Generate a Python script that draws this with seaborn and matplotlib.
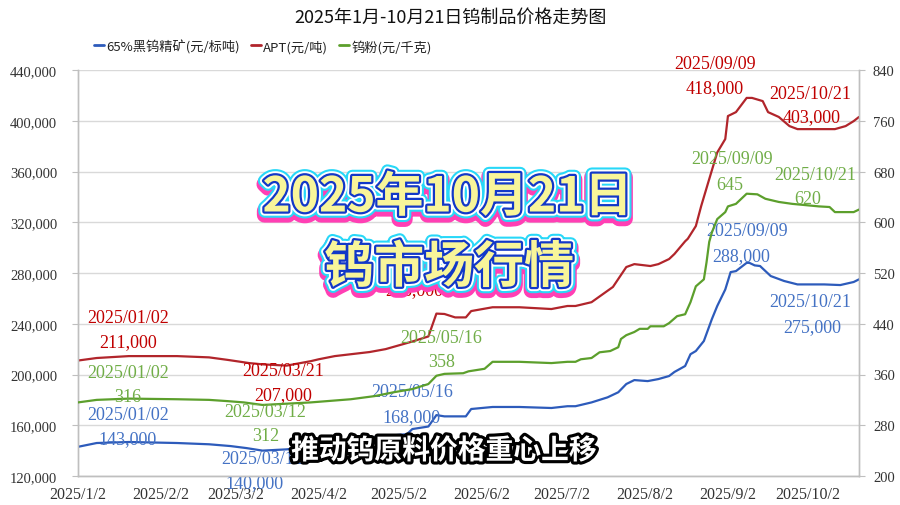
import numpy as np
import pandas as pd
import matplotlib
matplotlib.use("Agg")
import matplotlib.pyplot as plt
import matplotlib.dates as mdates
import matplotlib.patheffects as pe
from matplotlib.lines import Line2D
from matplotlib.ticker import FixedLocator, FuncFormatter
import seaborn as sns

# ---------------- data ----------------
title = "2025年1月-10月21日钨制品价格走势图"
series_names = ["65%黑钨精矿(元/标吨)", "APT(元/吨)", "钨粉(元/千克)"]

conc_dates = ['01-02','01-09','01-21','02-08','02-20','02-28','03-06','03-12','03-21','04-02',
              '04-14','04-21','04-27','05-05','05-07','05-13','05-16','05-19','05-27','05-29',
              '06-06','06-16','06-28','07-04','07-07','07-13','07-19','07-23','07-26','07-29',
              '08-03','08-07','08-11','08-13','08-17','08-19','08-21','08-24','08-27','08-29',
              '09-01','09-03','09-05','09-09','09-10','09-12','09-14','09-18','09-23','09-28',
              '10-08','10-14','10-19','10-21']
conc_values = [143000,146000,146800,146000,145000,143600,142000,140000,141000,144000,
               147000,150000,151500,153000,157000,159000,168000,167000,167000,172800,
               174400,174400,173600,175000,175000,178000,182000,186000,192500,195600,
               194800,196400,198800,202000,206700,216000,218500,226400,243700,254000,
               267000,280700,281500,288000,288000,286000,285500,277600,273700,271000,
               271000,270500,272900,275000]

apt_dates = ['01-02','01-09','01-21','02-08','02-20','02-27','03-07','03-12','03-21','03-30',
             '04-02','04-08','04-21','04-27','05-07','05-13','05-16','05-19','05-23','05-27',
             '05-29','06-06','06-16','06-28','07-04','07-07','07-13','07-17','07-21','07-26',
             '07-29','08-04','08-07','08-11','08-13','08-17','08-18','08-21','08-23','08-26',
             '08-29','09-01','09-02','09-05','09-09','09-11','09-15','09-17','09-21','09-25',
             '09-28','10-12','10-16','10-19','10-21']
apt_values = [211000,213000,214500,214500,213500,211500,209000,208000,207000,210500,
              212000,214500,217700,220000,226000,230000,248000,247700,245000,245000,
              250000,253000,253000,251600,254000,254000,257000,263000,269000,284700,
              287000,285500,287000,291000,295000,305000,307000,317000,332800,354000,
              375000,385600,403700,406800,418000,418000,415500,406800,403000,395800,
              393400,393400,395800,399700,403000]

powder_dates = ['01-02','01-09','01-21','02-08','02-20','02-27','03-05','03-12','03-21','03-30',
                '04-02','04-14','04-23','04-30','05-07','05-13','05-16','05-19','05-26','05-28',
                '06-03','06-06','06-16','06-28','07-04','07-07','07-09','07-13','07-16','07-20',
                '07-23','07-24','07-26','07-29','07-31','08-03','08-04','08-09','08-11','08-14',
                '08-17','08-19','08-21','08-24','08-25','08-26','08-27','08-29','09-01','09-02',
                '09-05','09-09','09-13','09-16','09-21','09-26','10-06','10-10','10-12','10-19',
                '10-21']
powder_values = [316,320,322,321,320,318,316,312,314,316,
                 317,321,326,332,337,345,358,361,362,365,
                 369,380,380,378,380,380,384,386,395,397,
                 403,416,422,427,432,432,436,436,441,452,
                 455,474,499,510,537,569,584,605,616,625,
                 629,645,644,637,632,629,625,624,616,616,
                 620]

# labelled points
conc_marks = ['01-02', '03-12', '05-16', '09-09', '10-21']
apt_marks = ['01-02', '03-21', '05-16', '09-09', '10-21']
powder_marks = ['01-02', '03-12', '05-16', '09-09', '10-21']

x_tick_months = [1, 2, 3, 4, 5, 6, 7, 8, 9, 10]
left_ticks = [120000, 160000, 200000, 240000, 280000, 320000, 360000, 400000, 440000]
right_ticks = [200, 280, 360, 440, 520, 600, 680, 760, 840]

headline_1 = "2025年10月21日"
headline_2 = "钨市场行情"
subtitle = "推动钨原料价格重心上移"

# ---------------- style ----------------
BLUE_L, RED_L, GREEN_L = "#2d5bbb", "#b1252b", "#5c9f2c"
BLUE_T, RED_T, GREEN_T = "#4472c4", "#c00000", "#70ad47"
GRID = "#d9d9d9"
AXC = "#bfbfbf"

sns.set_style("white")
plt.rcParams['font.family'] = ['Liberation Serif', 'Noto Sans CJK SC', 'DejaVu Sans']
CJK = ['Noto Sans CJK SC', 'DejaVu Sans']


def frame(dates, values):
    return pd.DataFrame({"date": pd.to_datetime(["2025-" + d for d in dates]),
                         "value": values})


conc_df = frame(conc_dates, conc_values)
apt_df = frame(apt_dates, apt_values)
powder_df = frame(powder_dates, powder_values)

fig = plt.figure(figsize=(9, 5.06), dpi=100)
ax = fig.add_axes([78 / 900, 1 - 477 / 506, (859 - 78) / 900, (477 - 71) / 506])
ax2 = ax.twinx()

sns.lineplot(data=conc_df, x="date", y="value", ax=ax, color=BLUE_L, lw=1.6, zorder=3)
sns.lineplot(data=apt_df, x="date", y="value", ax=ax, color=RED_L, lw=1.6, zorder=3)
sns.lineplot(data=powder_df, x="date", y="value", ax=ax2, color=GREEN_L, lw=1.6, zorder=3)

ax.set_xlim(pd.Timestamp("2025-01-02"), pd.Timestamp("2025-10-21"))
ax.set_ylim(120000, 440000)
ax2.set_ylim(200, 840)

ax.set_xticks([pd.Timestamp(2025, m, 2) for m in x_tick_months])
ax.xaxis.set_major_formatter(FuncFormatter(
    lambda v, p: (lambda d: f"{d.year}/{d.month}/{d.day}")(mdates.num2date(v))))
ax.yaxis.set_major_locator(FixedLocator(left_ticks))
ax.yaxis.set_major_formatter(FuncFormatter(lambda v, p: f"{int(v):,}"))
ax2.yaxis.set_major_locator(FixedLocator(right_ticks))
ax2.yaxis.set_major_formatter(FuncFormatter(lambda v, p: f"{int(v)}"))

for a in (ax, ax2):
    a.set_xlabel("")
    a.set_ylabel("")
    for s in a.spines.values():
        s.set_color(AXC)
        s.set_linewidth(1.0)
    a.spines['top'].set_visible(False)

ax.yaxis.grid(True, color=GRID, lw=1.0)
ax.xaxis.grid(False)
ax2.grid(False)
ax.tick_params(axis='x', direction='out', length=4, color=AXC, labelsize=11.5,
               labelcolor="#333333", pad=3)
ax.tick_params(axis='y', direction='out', length=4, color=AXC, labelsize=10.5,
               labelcolor="#333333", pad=11)
ax2.tick_params(axis='y', direction='out', length=4, color=AXC, labelsize=10.5,
                labelcolor="#333333", pad=6)
ax.set_axisbelow(True)


def annotate(axis, df, marks, offsets, color, fmt):
    lookup = dict(zip(df["date"], df["value"]))
    for m, (dpos, vpos) in zip(marks, offsets):
        d = pd.Timestamp("2025-" + m)
        v = lookup[d]
        axis.annotate(d.strftime("%Y/%m/%d"), xy=(d, v), xytext=dpos,
                      textcoords="offset pixels", ha="center", va="center",
                      color=color, fontsize=13, annotation_clip=False, zorder=4)
        axis.annotate(fmt(v), xy=(d, v), xytext=vpos,
                      textcoords="offset pixels", ha="center", va="center",
                      color=color, fontsize=13, annotation_clip=False, zorder=4)


apt_off = [((50, 43), (50, 19)), ((-3, -5), (-3, -29)), ((-22, 45), (-22, 24)),
           ((-32, 34), (-32, 10)), ((-49, 23), (-47, 0))]
powder_off = [((50, 30), (50, 6)), ((3, -7), (3, -31)), ((5, 38), (5, 14)),
              ((-15, 35), (-17, 9)), ((-44, 35), (-51, 11))]
conc_off = [((50, 32), (50, 8)), ((0, -8), (-8, -32)), ((-24, 24), (-25, -1)),
            ((0, 32), (-5, 7)), ((-49, -22), (-47, -47))]

annotate(ax, apt_df, apt_marks, apt_off, RED_T, lambda v: f"{int(v):,}")
annotate(ax, conc_df, conc_marks, conc_off, BLUE_T, lambda v: f"{int(v):,}")
annotate(ax2, powder_df, powder_marks, powder_off, GREEN_T, lambda v: f"{int(v)}")

# title + legend
fig.text(0.501, 1 - 18 / 506, title, ha="center", va="center", fontsize=13,
         family=['Noto Sans CJK SC', 'DejaVu Sans'], color="#111111")
handles = [Line2D([], [], color=c, lw=2) for c in (BLUE_L, RED_L, GREEN_L)]
leg = fig.legend(handles, series_names, loc="center", bbox_to_anchor=(0.292, 1 - 47 / 506),
                 ncol=3, frameon=False, handlelength=0.8, handletextpad=0.15,
                 columnspacing=0.8, prop={'family': CJK, 'size': 9.5})
for t in leg.get_texts():
    t.set_color("#222222")

# overlay headline
big_fx = [pe.Stroke(linewidth=11, foreground="#ff3fb4", offset=(0, -2.5)),
          pe.Stroke(linewidth=9, foreground="#28d8f8"),
          pe.Stroke(linewidth=6, foreground="#ffffff"),
          pe.Stroke(linewidth=3.2, foreground="#1238c8"),
          pe.Normal()]
fig.text(0.497, 1 - 198 / 506, headline_1, ha="center", va="center", fontsize=34.5,
         fontweight="bold", family=CJK, color="#f8f59a", path_effects=big_fx, zorder=10)
fig.text(0.499, 1 - 269 / 506, headline_2, ha="center", va="center", fontsize=36,
         fontweight="bold", family=CJK, color="#f8f59a", path_effects=big_fx, zorder=10)
fig.text(0.493, 1 - 452 / 506, subtitle, ha="center", va="center", fontsize=20,
         fontweight="bold", family=CJK, color="white",
         path_effects=[pe.Stroke(linewidth=4.5, foreground="black"), pe.Normal()], zorder=10)

fig.savefig("out.png", dpi=100)
